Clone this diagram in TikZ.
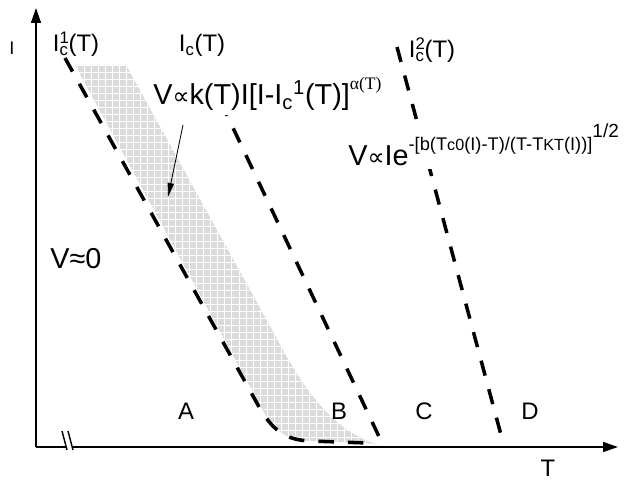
\documentclass[tikz,border=0pt]{standalone}
\usepackage{fontspec}
\setmainfont{Liberation Sans}
\newfontfamily\alphafont{Liberation Serif}
\newfontfamily\propfont{DejaVu Sans}
\usetikzlibrary{arrows.meta,patterns.meta}

\begin{document}
\begin{tikzpicture}[x=0.25cm,y=0.25cm,
    axis/.style={line width=1.1pt,-{Triangle[length=10.5pt,width=7pt]}},
    crit/.style={line width=2.5pt,dash pattern=on 11pt off 10pt},
    lbl/.style={font=\fontsize{17}{19}\selectfont,inner sep=0pt,anchor=base},
    law/.style={font=\fontsize{20.5}{23}\selectfont,inner xsep=0pt,inner ysep=3pt,anchor=base west}]
    \useasboundingbox (-3.6,-3.3) rectangle (59.8,44.7);

    % axes
    \coordinate (O) at (0,0);
    \coordinate (Itop) at (0,43.9);
    \coordinate (Tend) at (58.2,0);
    \draw[axis] (O) -- (Itop);
    \draw[axis] (O) -- (Tend);
    % axis break
    \draw[white,line width=2pt] (2.95,0) -- (3.65,0);
    \draw[line width=1pt] (2.6,1.6) -- (3.1,-0.3);
    \draw[line width=1pt] (3.2,1.6) -- (3.7,-0.3);

    % shaded region between I_c^1 and I_c
    \path[preaction={fill=black!14},pattern={Hatch[angle=0,distance=5pt,line width=0.7pt]},pattern color=white]
        (3.9,38.2) -- (9.0,38.2) -- (24.0,11.0)
        .. controls (26.8,5.6) and (30.0,1.2) .. (34.7,0.1)
        -- (33.2,0.4) -- (27.4,0.6)
        .. controls (24.9,0.7) and (23.6,1.7) .. (22.4,4.2) -- cycle;

    % critical lines
    \coordinate (c1a) at (2.9,38.9);
    \coordinate (c1b) at (22.2,4.2);
    \coordinate (c1c) at (27.4,0.6);
    \coordinate (c1d) at (33.2,0.4);
    \coordinate (c2a) at (17.2,37.2);
    \coordinate (c2b) at (34.7,0.2);
    \coordinate (c3a) at (36.1,40.0);
    \coordinate (c3b) at (46.8,0.1);
    \draw[crit] (c1a) -- (c1b) .. controls (23.6,1.7) and (24.9,0.7) .. (c1c) -- (c1d);
    \draw[crit] (c2a) -- (c2b);
    \draw[crit] (c3a) -- (c3b);

    % labels
    \node[lbl,font=\fontsize{13}{15}\selectfont] (Ilab) at (-2.4,39.2) {I};
    \node[lbl] (Tlab) at (51.2,-2.9) {T};
    \node[lbl] (Ic1) at (4.0,39.5) {I\rlap{\textsuperscript{1}}\textsubscript{c}(T)};
    \node[lbl] (Ic) at (16.6,39.5) {I\textsubscript{c}(T)};
    \node[lbl] (Ic2) at (39.6,38.9) {I\rlap{\textsuperscript{2}}\textsubscript{c}(T)};
    \node[lbl] (A) at (15.0,2.8) {A};
    \node[lbl] (B) at (30.3,2.8) {B};
    \node[lbl] (C) at (38.8,2.8) {C};
    \node[lbl] (D) at (49.4,2.8) {D};

    \node[law] (Vzero) at (1.4,17.9) {V≈0};
    \node[law,fill=white] (Vflow) at (11.7,34.2) {V{\propfont\fontsize{17}{17}\selectfont ∝}k(T)I[I-I\textsubscript{c}\textsuperscript{1}(T)]\raisebox{0.55em}{\fontsize{12.5}{12}\selectfont\alphafont α(T)}};
    \node[law,fill=white] (Vkt) at (31.2,28.2) {V{\propfont\fontsize{17}{17}\selectfont ∝}Ie\raisebox{0.5em}{\fontsize{13}{13}\selectfont -[b(T{\fontsize{11.5}{11}\selectfont c0}(I)-T)/(T-T{\fontsize{11.5}{11}\selectfont KT}(I))]}\raisebox{0.95em}{\fontsize{13.5}{13}\selectfont 1/2}};

    \coordinate (arrS) at (14.7,32.2);
    \coordinate (arrE) at (13.2,25.0);
    \draw[line width=0.6pt,-{Triangle[length=10pt,width=4.5pt]}] (arrS) -- (arrE);
\end{tikzpicture}
\end{document}
